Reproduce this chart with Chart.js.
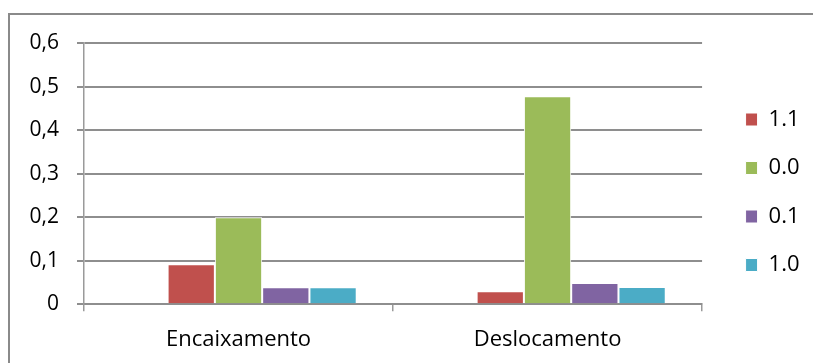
<!DOCTYPE html>
<html>
<head>
<meta charset="utf-8">
<script src="https://cdn.jsdelivr.net/npm/chart.js@4"></script>
<style>
  body { margin: 0; background: #fff; overflow: hidden; }
  .frame {
    position: absolute;
    left: 8px;
    top: 13px;
    width: 900px;
    height: 500px;
    border: 2px solid #8a8a8a;
  }
  #chart { position: absolute; left: 0; top: 0; }
</style>
</head>
<body>
<div class="frame"></div>
<canvas id="chart" width="813" height="363"></canvas>
<script>
const categories = ["Encaixamento", "Deslocamento"];
const seriesNames = ["1.1", "0.0", "0.1", "1.0"];
const s11 = [0.092, 0.03];
const s00 = [0.2, 0.478];
const s01 = [0.039, 0.049];
const s10 = [0.039, 0.04];
// empty first series in the source sheet, keeps the groups shifted right
const blank = [null, null];
const yTickLabels = ["0", "0,1", "0,2", "0,3", "0,4", "0,5", "0,6"];

const colors = ["#c0504d", "#9bbb59", "#8064a2", "#4bacc6"];
const gridGray = "#8e8e8e";

Chart.defaults.font.family = "'Open Sans', sans-serif";
Chart.defaults.font.size = 21;
Chart.defaults.color = "#000";

const values = [s11, s00, s01, s10];
const datasets = [{ label: "", data: blank }];
seriesNames.forEach((name, i) => {
  datasets.push({
    label: name,
    data: values[i],
    backgroundColor: colors[i],
    borderColor: "#fff",
    borderWidth: 1,
  });
});

const ctx = document.getElementById("chart").getContext("2d");
const myChart = new Chart(ctx, {
  type: "bar",
  data: {
    labels: categories,
    datasets: datasets,
  },
  options: {
    responsive: false,
    animation: false,
    devicePixelRatio: 1,
    categoryPercentage: 0.765,
    barPercentage: 1,
    layout: {
      padding: { left: 0, right: 3.5, top: 43, bottom: 0 },
    },
    plugins: {
      tooltip: { enabled: false },
      legend: {
        position: "right",
        align: "start",
        // blank title only pushes the items down
        title: {
          display: true,
          text: " ",
          font: { size: 10 },
          padding: { top: 0, bottom: 27 },
        },
        labels: {
          boxWidth: 12,
          boxHeight: 13,
          padding: 26.5,
          font: { size: 22 },
          filter: (item) => item.text !== "",
        },
      },
    },
    scales: {
      x: {
        grid: {
          drawOnChartArea: false,
          drawTicks: true,
          tickLength: 7,
          color: "#9a9a9a",
          lineWidth: 1.5,
        },
        border: { display: true, color: gridGray, width: 2 },
        ticks: { padding: 15.5, font: { size: 22 } },
        afterFit: (s) => {
          s.height = 58.7;
        },
      },
      y: {
        min: 0,
        max: 0.6,
        ticks: {
          stepSize: 0.1,
          padding: 18,
          callback: (value, index) => yTickLabels[index],
        },
        grid: {
          color: gridGray,
          lineWidth: 2,
          tickLength: 7,
        },
        border: { display: true, color: "#9a9a9a", width: 1.5 },
        afterFit: (s) => {
          s.width = 84;
        },
      },
      gap: {
        type: "linear",
        position: "right",
        display: true,
        grid: { display: false },
        ticks: { display: false },
        border: { display: false },
        afterFit: (s) => {
          s.width = 17;
        },
      },
    },
  },
});
</script>
</body>
</html>
